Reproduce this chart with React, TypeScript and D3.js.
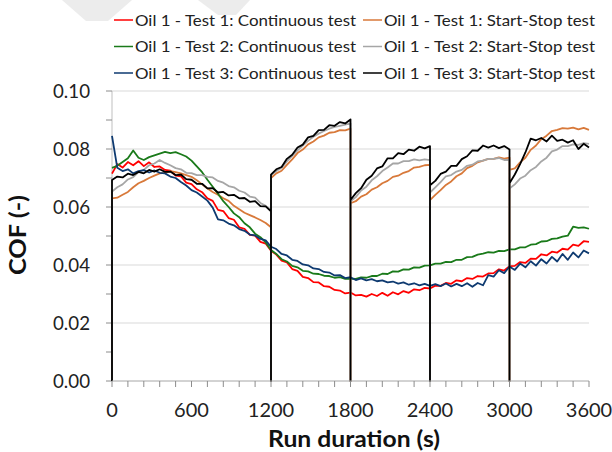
import React from "react";
import * as d3 from "d3";

const W = 612;
const H = 452;

// sampling grid (s) for the continuous tests
const STEP = 40;
const TIMES = d3.range(0, 3601, STEP);
// restarts of the start-stop tests (s)
const SEG_STARTS = [0, 1200, 1800, 2400, 3000];
const SEG_ENDS = [1200, 1800, 2400, 3000, 3600];

const X_TICKS = [0, 600, 1200, 1800, 2400, 3000, 3600];
const Y_TICKS = [0, 0.02, 0.04, 0.06, 0.08, 0.1];

const red = [
  0.0715, 0.0748, 0.0736, 0.0755, 0.0744, 0.0758, 0.0741, 0.0754, 0.0738, 0.074,
  0.0728, 0.0725, 0.0708, 0.0706, 0.0684, 0.0679, 0.0661, 0.0651, 0.063, 0.0621,
  0.059, 0.0586, 0.0562, 0.0556, 0.053, 0.0525, 0.0504, 0.0501, 0.048, 0.0474,
  0.0449, 0.0436, 0.0415, 0.0409, 0.0386, 0.038, 0.0359, 0.0355, 0.0341, 0.034,
  0.0327, 0.0325, 0.0314, 0.0312, 0.0302, 0.0305, 0.0295, 0.0297, 0.0291, 0.03,
  0.0293, 0.0304, 0.0294, 0.0306, 0.0299, 0.031, 0.0304, 0.0316, 0.0313, 0.0321,
  0.0319, 0.0329, 0.0328, 0.0338, 0.0335, 0.0347, 0.0344, 0.0355, 0.0352, 0.0362,
  0.036, 0.0371, 0.0372, 0.0385, 0.0381, 0.0396, 0.0397, 0.041, 0.0407, 0.0422,
  0.0421, 0.0437, 0.0433, 0.0446, 0.0443, 0.0456, 0.0453, 0.047, 0.0466, 0.0482,
  0.048,
];
const green = [
  0.0735, 0.0742, 0.0755, 0.0768, 0.0795, 0.077, 0.0762, 0.0772, 0.0778, 0.0784,
  0.079, 0.0786, 0.0789, 0.0782, 0.0774, 0.076, 0.074, 0.072, 0.0694, 0.067,
  0.0646, 0.062, 0.06, 0.0578, 0.0565, 0.0544, 0.053, 0.0508, 0.0496, 0.0478,
  0.0452, 0.0438, 0.042, 0.0412, 0.0397, 0.0392, 0.038, 0.0378, 0.037, 0.0369,
  0.0363, 0.0362, 0.0356, 0.0358, 0.0352, 0.0353, 0.0352, 0.0357, 0.0356, 0.0362,
  0.0362, 0.037, 0.0369, 0.0378, 0.0377, 0.0385, 0.0384, 0.0392, 0.0391, 0.0398,
  0.0399, 0.0405, 0.0405, 0.0411, 0.041, 0.0418, 0.0418, 0.0427, 0.0428, 0.0436,
  0.0439, 0.0444, 0.0443, 0.0449, 0.0448, 0.0454, 0.0454, 0.0461, 0.0461, 0.047,
  0.0472, 0.0481, 0.0482, 0.049, 0.0492, 0.0498, 0.0501, 0.0532, 0.0528, 0.053,
  0.0525,
];
const blue = [
  0.0845, 0.0735, 0.0724, 0.073, 0.0716, 0.0724, 0.0727, 0.0719, 0.0726, 0.0718,
  0.0716, 0.0705, 0.07, 0.0686, 0.0674, 0.0658, 0.065, 0.0636, 0.0622, 0.0598,
  0.0557, 0.0554, 0.0543, 0.0537, 0.0524, 0.0518, 0.0505, 0.0502, 0.049, 0.0485,
  0.0463, 0.0455, 0.0438, 0.0433, 0.0418, 0.0414, 0.0402, 0.0399, 0.0388, 0.0386,
  0.0376, 0.0374, 0.0364, 0.0365, 0.0355, 0.0358, 0.0348, 0.0354, 0.0347, 0.0351,
  0.0344, 0.0347, 0.034, 0.0343, 0.0336, 0.034, 0.0332, 0.0337, 0.033, 0.0335,
  0.0328, 0.0334, 0.0327, 0.0336, 0.0326, 0.0335, 0.0327, 0.0337, 0.0325, 0.0338,
  0.033, 0.0365, 0.036, 0.0382, 0.0372, 0.0395, 0.0383, 0.0405, 0.0392, 0.0413,
  0.0398, 0.042, 0.0405, 0.0428, 0.0412, 0.0438, 0.0418, 0.0443, 0.0426, 0.045,
  0.044,
];

// start-stop tests: one array per run segment, sampled every STEP s
const orangeSegs = [
  [0.063, 0.0632, 0.0642, 0.0652, 0.0668, 0.0682, 0.069, 0.07, 0.0708, 0.0716,
   0.0718, 0.0724, 0.072, 0.0716, 0.071, 0.0704, 0.0692, 0.0678, 0.0664, 0.0652,
   0.0642, 0.063, 0.0621, 0.0604, 0.0592, 0.058, 0.0572, 0.0564, 0.0555, 0.0545, 0.053],
  [0.07, 0.0716, 0.0725, 0.0745, 0.0764, 0.0786, 0.0798, 0.0816, 0.0826, 0.084, 0.0846, 0.0856, 0.0858, 0.0865, 0.0864, 0.087],
  [0.0613, 0.062, 0.0636, 0.0644, 0.066, 0.0668, 0.0682, 0.069, 0.0704, 0.0708, 0.0718, 0.0724, 0.0736, 0.0738, 0.0744, 0.0745],
  [0.0624, 0.0642, 0.0658, 0.0676, 0.0688, 0.0706, 0.0716, 0.0734, 0.0742, 0.0754, 0.076, 0.0766, 0.0766, 0.0771, 0.0767, 0.077],
  [0.0728, 0.0733, 0.0754, 0.077, 0.0797, 0.0812, 0.0834, 0.0846, 0.0862, 0.0866, 0.0872, 0.087, 0.0874, 0.0868, 0.0873, 0.0866],
];
const graySegs = [
  [0.0653, 0.0668, 0.0678, 0.0695, 0.0703, 0.072, 0.0728, 0.0744, 0.075, 0.0762,
   0.0752, 0.0744, 0.0734, 0.073, 0.0718, 0.0717, 0.071, 0.071, 0.0704, 0.0702,
   0.069, 0.0684, 0.0672, 0.0668, 0.0656, 0.065, 0.0636, 0.0632, 0.0614, 0.0604, 0.059],
  [0.071, 0.0724, 0.0735, 0.0757, 0.0776, 0.0795, 0.0812, 0.0828, 0.0842, 0.0853, 0.0862, 0.087, 0.0876, 0.088, 0.0884, 0.0888],
  [0.062, 0.0634, 0.0657, 0.067, 0.0692, 0.0706, 0.0724, 0.0736, 0.075, 0.075, 0.0758, 0.0758, 0.0764, 0.0761, 0.0764, 0.0762],
  [0.065, 0.0668, 0.0686, 0.0706, 0.071, 0.0722, 0.0728, 0.0742, 0.0746, 0.0757, 0.076, 0.0766, 0.0766, 0.0769, 0.0762, 0.0762],
  [0.0664, 0.0678, 0.0698, 0.0708, 0.0727, 0.0738, 0.0757, 0.077, 0.0792, 0.0798, 0.081, 0.081, 0.0816, 0.0814, 0.082, 0.0818],
];
const blackSegs = [
  [0.0693, 0.0705, 0.0702, 0.0715, 0.071, 0.0721, 0.0716, 0.0728, 0.0722, 0.073,
   0.0721, 0.0722, 0.071, 0.0712, 0.0696, 0.0694, 0.068, 0.068, 0.0664, 0.0665,
   0.065, 0.0652, 0.064, 0.0642, 0.063, 0.0631, 0.0618, 0.062, 0.0603, 0.0602, 0.0585],
  [0.0712, 0.073, 0.0738, 0.0766, 0.078, 0.0805, 0.0815, 0.084, 0.0845, 0.0865, 0.0866, 0.0882, 0.088, 0.0893, 0.0888, 0.0902],
  [0.0624, 0.0648, 0.0665, 0.0694, 0.0708, 0.0733, 0.074, 0.0768, 0.0768, 0.0786, 0.0782, 0.0798, 0.0794, 0.0808, 0.0802, 0.081],
  [0.0675, 0.069, 0.0714, 0.0722, 0.0742, 0.0742, 0.0765, 0.0775, 0.0795, 0.0794, 0.0812, 0.0805, 0.0812, 0.0803, 0.081, 0.0798],
  [0.0682, 0.0712, 0.0748, 0.0788, 0.0836, 0.083, 0.0838, 0.0826, 0.0846, 0.0828, 0.0832, 0.0822, 0.083, 0.08, 0.0818, 0.0805],
];

const LABELS = [
  "Oil 1 - Test 1: Continuous test",
  "Oil 1 - Test 1: Start-Stop test",
  "Oil 1 - Test 2: Continuous test",
  "Oil 1 - Test 2: Start-Stop test",
  "Oil 1 - Test 3: Continuous test",
  "Oil 1 - Test 3: Start-Stop test",
];
const COLORS = ["#ff0000", "#d8793a", "#1a7a1a", "#a6a6a6", "#0e3a70", "#000000"];

const x = d3.scaleLinear().domain([0, 3600]).range([112, 589]);
const y = d3.scaleLinear().domain([0, 0.1]).range([381, 91]);
const line = d3
  .line<[number, number]>()
  .x((d) => x(d[0]))
  .y((d) => y(d[1]));

function contPoints(vals: number[]): [number, number][] {
  return vals.map((v, i) => [TIMES[i], v]);
}
function ssPoints(segs: number[][]): [number, number][] {
  const pts: [number, number][] = [];
  segs.forEach((seg, si) => {
    const s = SEG_STARTS[si];
    pts.push([s, 0]);
    seg.forEach((v, k) => pts.push([s + k * STEP, v]));
    if (si < segs.length - 1) pts.push([SEG_ENDS[si], 0]);
  });
  return pts;
}

const SERIES: [number, number][][] = [
  contPoints(red),
  ssPoints(orangeSegs),
  contPoints(green),
  ssPoints(graySegs),
  contPoints(blue),
  ssPoints(blackSegs),
];

const FONT = "Lato, 'Open Sans', sans-serif";

export default function App() {
  const minorX = d3.range(0, 3601, 120);
  const minorY = d3.range(0, 0.1001, 0.01);
  const legendRows = [20, 46.5, 73];
  const legendCols = [114, 363];
  const legendLen = [221, 211];
  return (
    <svg
      width={W}
      height={H}
      style={{ position: "absolute", left: 0, top: 0, background: "#fff" }}
      fontFamily={FONT}
    >
      <rect x={0} y={0} width={W} height={H} fill="#fff" />
      {/* faint watermark fragments */}
      <polygon points="62,0 132,0 108,21 86,21" fill="#ececec" />
      <polygon points="198,0 250,0 236,15 218,15" fill="#ececec" />

      {/* gridlines */}
      {Y_TICKS.filter((t) => t > 0).map((t) => (
        <line key={"g" + t} x1={x(0)} x2={x(3600)} y1={y(t)} y2={y(t)} stroke="#d9d9d9" strokeWidth={1} />
      ))}
      {/* y axis */}
      <line x1={x(0)} x2={x(0)} y1={y(0)} y2={y(0.1)} stroke="#bfbfbf" strokeWidth={1} />
      {minorY.map((t) => (
        <line key={"yt" + t} x1={x(0) - 6} x2={x(0)} y1={y(t)} y2={y(t)} stroke="#8c8c8c" strokeWidth={1} />
      ))}
      {Y_TICKS.map((t) => (
        <text
          key={"yl" + t}
          x={90}
          y={y(t) + 7}
          textAnchor="end"
          fontSize={20}
          fill="#222"
          textLength={37}
          lengthAdjust="spacingAndGlyphs"
        >
          {t.toFixed(2)}
        </text>
      ))}

      {/* series */}
      {SERIES.map((pts, i) => (
        <path key={"s" + i} d={line(pts) || ""} fill="none" stroke={COLORS[i]} strokeWidth={1.8} strokeLinejoin="round" />
      ))}

      {/* x axis */}
      <line x1={x(0)} x2={x(3600)} y1={y(0)} y2={y(0)} stroke="#a6a6a6" strokeWidth={1} />
      {minorX.map((t) => (
        <line key={"xt" + t} x1={x(t)} x2={x(t)} y1={y(0)} y2={y(0) + 6} stroke="#8c8c8c" strokeWidth={1} />
      ))}
      {X_TICKS.map((t) => (
        <text key={"xl" + t} x={x(t)} y={417} textAnchor="middle" fontSize={20} fill="#222">
          {t}
        </text>
      ))}

      {/* axis titles */}
      <text
        x={354}
        y={447}
        textAnchor="middle"
        fontSize={22}
        fontWeight="bold"
        fill="#111"
        textLength={172}
        lengthAdjust="spacingAndGlyphs"
      >
        Run duration (s)
      </text>
      <text
        transform={`translate(26,235) rotate(-90)`}
        textAnchor="middle"
        fontSize={22}
        fontWeight="bold"
        fill="#111"
        textLength={80}
        lengthAdjust="spacingAndGlyphs"
      >
        COF (-)
      </text>

      {/* legend */}
      {LABELS.map((lab, i) => {
        const cx = legendCols[i % 2];
        const cy = legendRows[Math.floor(i / 2)];
        return (
          <g key={"lg" + i}>
            <line x1={cx} x2={cx + 19} y1={cy} y2={cy} stroke={COLORS[i]} strokeWidth={1.5} />
            <text
              x={cx + 21}
              y={cy + 5.5}
              fontSize={16}
              fill="#222"
              textLength={legendLen[i % 2]}
              lengthAdjust="spacingAndGlyphs"
            >
              {lab}
            </text>
          </g>
        );
      })}
    </svg>
  );
}
